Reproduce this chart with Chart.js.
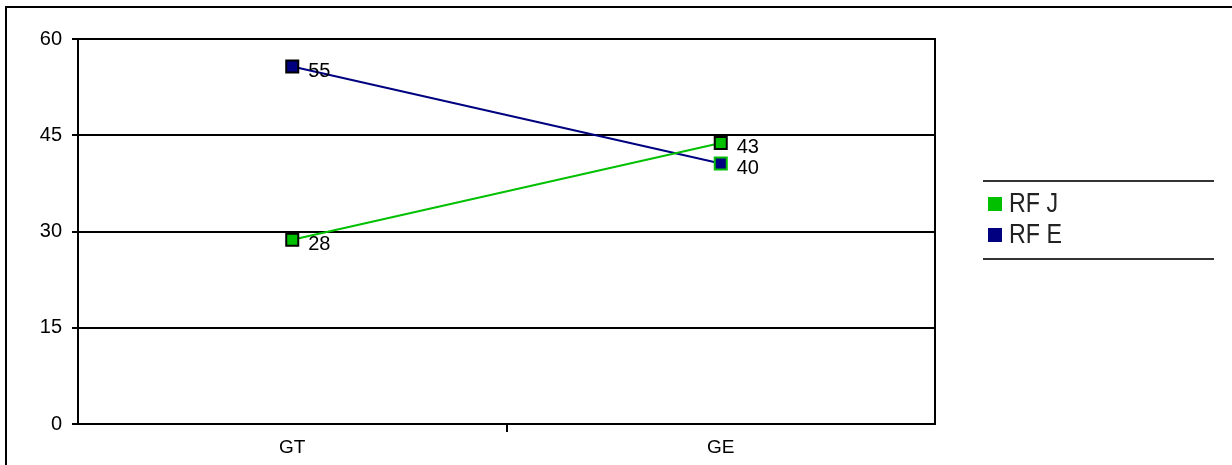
<!DOCTYPE html>
<html>
<head>
<meta charset="utf-8">
<script src="https://cdn.jsdelivr.net/npm/chart.js@4/dist/chart.umd.min.js"></script>
<style>
  body { margin: 0; background: #fff; }
</style>
</head>
<body>
<canvas id="chartrf" width="1232" height="465"></canvas>
<script>
// data
var categories = ['GT', 'GE'];
var rfjValues = [28.7, 43.8];
var rfeValues = [55.7, 40.6];
var yTicks = [0, 15, 30, 45, 60];

var green = '#00c000';
var navy = '#000080';
var font = 'Liberation Sans, Arial, sans-serif';

// white page + the two frame lines along top and left
const framePlugin = {
    id: 'framePlugin',
    beforeDraw: function(chart){
        const c = chart.ctx;
        c.save();
        c.fillStyle = '#fff';
        c.fillRect(0, 0, chart.width, chart.height);
        c.strokeStyle = '#000';
        c.lineWidth = 2;
        c.beginPath();
        c.moveTo(6, chart.height);
        c.lineTo(6, 7);
        c.lineTo(chart.width, 7);
        c.stroke();
        c.restore();
    },
    afterDatasetsDraw: function(chart){
        const c = chart.ctx;
        const a = chart.chartArea;
        c.save();
        // right edge of the plot
        c.strokeStyle = '#000';
        c.lineWidth = 2;
        c.beginPath();
        c.moveTo(a.right, a.top - 1);
        c.lineTo(a.right, a.bottom);
        c.stroke();
        // value labels next to each marker
        c.fillStyle = '#000';
        c.font = '20px ' + font;
        c.textAlign = 'left';
        c.textBaseline = 'middle';
        chart.data.datasets.forEach(function(ds, i){
            chart.getDatasetMeta(i).data.forEach(function(pt, j){
                c.fillText(String(Math.floor(ds.data[j])), pt.x + 16, pt.y + 5);
            });
        });
        // legend box on the right
        const lx = 983, lw = 231;
        c.strokeStyle = '#333';
        c.lineWidth = 2;
        c.beginPath();
        c.moveTo(lx, 181); c.lineTo(lx + lw, 181);
        c.moveTo(lx, 259); c.lineTo(lx + lw, 259);
        c.stroke();
        chart.data.datasets.forEach(function(ds, i){
            const y = 197 + i * 31;
            c.fillStyle = ds.backgroundColor;
            c.fillRect(988, y, 14, 14);
            c.save();
            c.translate(1009, y + 15);
            c.scale(0.83, 1);
            c.fillStyle = '#222';
            c.font = '28px ' + font;
            c.textBaseline = 'alphabetic';
            c.fillText(ds.label, 0, 0);
            c.restore();
        });
        c.restore();
    }
};

const dt = {
    labels: categories,
    datasets: [{
        label: 'RF J',
        data: rfjValues,
        borderColor: green,
        backgroundColor: green,
        borderWidth: 2,
        pointStyle: 'rect',
        pointRadius: 8.5,
        pointBorderWidth: 2,
        pointBackgroundColor: green,
        pointBorderColor: ['#000', '#000']
    }, {
        label: 'RF E',
        data: rfeValues,
        borderColor: navy,
        backgroundColor: navy,
        borderWidth: 2,
        pointStyle: 'rect',
        pointRadius: 8.5,
        pointBorderWidth: 2,
        pointBackgroundColor: navy,
        pointBorderColor: ['#000', green]
    }]
};

const config_chartrf = {
    type: 'line',
    data: dt,
    plugins: [framePlugin],
    options: {
        responsive: false,
        animation: false,
        layout: { padding: { left: 6, top: 39, right: 297, bottom: 1 } },
        plugins: {
            legend: { display: false },
            tooltip: { enabled: false }
        },
        scales: {
            x: {
                offset: true,
                afterFit: function(s){ s.height = 40; },
                grid: {
                    offset: true,
                    drawOnChartArea: false,
                    tickLength: 8,
                    lineWidth: 2,
                    color: function(ctx){ return ctx.index === 1 ? '#000' : 'rgba(0,0,0,0)'; }
                },
                border: { color: '#000', width: 2 },
                ticks: { color: '#000', font: { family: font, size: 19 }, padding: 4 }
            },
            y: {
                min: yTicks[0],
                max: yTicks[yTicks.length - 1],
                afterFit: function(s){ s.width = 72; },
                afterBuildTicks: function(s){ s.ticks = yTicks.map(function(v){ return { value: v }; }); },
                grid: { color: '#000', lineWidth: 2, tickLength: 6 },
                border: { color: '#000', width: 2 },
                ticks: { color: '#000', font: { family: font, size: 20 }, padding: 10 }
            }
        }
    }
};
const chartrf_data = new Chart(
    document.getElementById('chartrf'),
    config_chartrf
);
</script>
</body>
</html>
